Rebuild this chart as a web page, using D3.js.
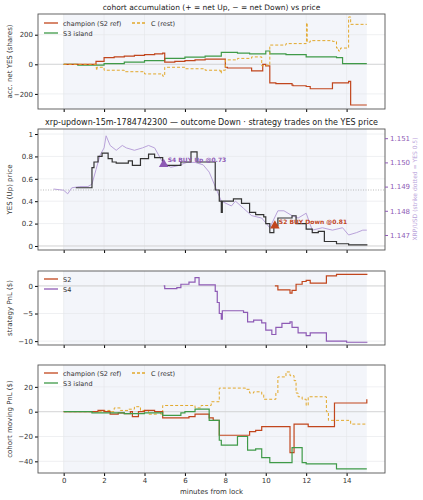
<!DOCTYPE html><html><head><meta charset="utf-8">
<script src="https://cdn.jsdelivr.net/npm/d3@7"></script>
<style>body{margin:0;background:#fff}text{font-family:"DejaVu Sans",sans-serif}</style></head><body>
<svg id="c" width="423" height="500"></svg>
<script>
const xTicks=[0,2,4,6,8,10,12,14];
// panel 1: accumulation [minute, shares]
const accChampion=[[0,0],[1.6,20],[2.0,45],[2.5,50],[3,55],[3.5,60],[4,65],[4.5,70],[4.9,75],[5.0,15],[5.5,20],[6,25],[6.5,30],[7.0,35],[7.7,35],[8.0,-20],[8.1,-25],[9.3,-45],[9.85,0],[10.0,-10],[10.2,-125],[10.5,-130],[11.3,-140],[11.35,-145],[12.0,-150],[12.2,-165],[13.3,-125],[14.1,-115],[14.2,-275],[15,-275]];
const accS3=[[0,0],[0.7,-5],[1.6,-5],[2,5],[3,15],[4,25],[5,40],[6,48],[7,55],[7.8,80],[8.6,75],[9.2,70],[9.9,70],[10.0,90],[10.2,70],[11,65],[12,50],[13.5,45],[13.8,5],[15,5]];
const accC=[[0,0],[1.6,-20],[1.62,-40],[1.65,-20],[2.0,-40],[3,-50],[4,-65],[4.9,-80],[5.0,-20],[5.6,-20],[6,-30],[7,-40],[7.75,-60],[7.8,-40],[8.0,30],[8.6,40],[9.3,50],[9.8,-10],[10.05,-5],[10.2,130],[11,140],[12,150],[12.02,280],[12.05,150],[12.2,160],[13.3,155],[13.5,110],[13.6,90],[13.7,110],[14.1,320],[14.2,270],[15,270]];
// panel 2: YES price and XRP
const yesPrice=[[0.6,0.52],[1.4,0.7],[1.5,0.75],[1.7,0.8],[1.9,0.83],[2.2,0.78],[2.4,0.75],[2.6,0.74],[3.0,0.74],[3.2,0.76],[3.4,0.72],[3.8,0.78],[4.2,0.82],[4.5,0.79],[4.9,0.72],[5.5,0.72],[5.8,0.75],[6.3,0.84],[6.6,0.75],[7.3,0.75],[7.5,0.5],[7.7,0.4],[7.8,0.3],[7.85,0.4],[8.4,0.42],[8.8,0.38],[9.2,0.3],[9.5,0.28],[9.9,0.26],[10.0,0.2],[10.2,0.12],[10.4,0.18],[10.6,0.25],[11.3,0.27],[11.5,0.2],[12.0,0.15],[12.3,0.12],[12.6,0.13],[12.9,0.04],[13.5,0.02],[14.1,0.01],[15,0.005]];
const xrpPrice=[[-0.5,1.1489],[0,1.14885],[0.2,1.1487],[0.4,1.14895],[0.8,1.149],[1.2,1.149],[1.4,1.1491],[1.6,1.1497],[1.8,1.1503],[2.0,1.1506],[2.1,1.1511],[2.3,1.1507],[2.6,1.1505],[2.9,1.1507],[3.1,1.1506],[3.5,1.1505],[3.9,1.1506],[4.2,1.1507],[4.5,1.1506],[4.9,1.15],[5.3,1.1498],[5.6,1.14985],[6.1,1.15],[6.5,1.15],[6.9,1.1499],[7.2,1.1496],[7.5,1.149],[7.8,1.1484],[8.3,1.1482],[8.5,1.1484],[8.9,1.1481],[9.3,1.1478],[9.8,1.1477],[10.2,1.1473],[10.6,1.148],[10.9,1.148],[11.3,1.1478],[11.6,1.1477],[12.0,1.1479],[12.3,1.1472],[12.8,1.1473],[13.3,1.1472],[13.8,1.1473],[14.1,1.147],[14.5,1.1471],[14.8,1.1472],[15,1.1472]];
const trades=[{t:4.95,p:0.73,label:"S4 BUY Up @0.73",s:"S4"},{t:10.45,p:0.18,label:"S2 BUY Down @0.81",s:"S2"}];
// panel 3: strategy PnL
const pnlS2=[[10.45,0],[10.6,-0.7],[11.2,-1.3],[11.3,-0.8],[11.5,0.3],[11.8,0.8],[12.0,1.0],[12.2,0.5],[13.0,1.8],[13.5,2.1],[15,2.2]];
const pnlS4=[[4.95,0],[5.0,-0.5],[5.6,-0.3],[5.8,0.3],[6.2,0.7],[6.5,1.5],[6.7,0.2],[7.5,-1.0],[7.6,-3],[7.7,-5],[7.8,-6],[7.85,-4.5],[8.6,-4.5],[8.9,-4.8],[9.1,-6.5],[9.4,-6.2],[9.8,-6.7],[10.0,-8],[10.3,-8.8],[10.5,-7.5],[10.8,-6.8],[11.2,-6.5],[11.3,-7.5],[11.6,-8.5],[12.0,-9],[12.2,-8.5],[12.9,-8.5],[13.0,-10],[14.0,-10.2],[15,-10.3]];
// panel 4: cohort PnL
const cpChampion=[[0,0],[1.7,1],[2.0,0],[2.3,-2],[2.7,-1],[3.0,-1.5],[3.3,0],[3.4,-4],[3.7,0],[4,1],[4.5,0],[4.9,-5],[6,-5],[6.2,-4],[6.5,-2],[7.0,-2],[7.2,-5],[7.4,-7],[7.7,-19],[9.1,-19],[9.2,-16],[9.5,-15],[9.8,-12],[11.1,-12],[11.2,-33],[11.4,-10],[12,-10],[12.1,-12],[13.3,-12],[13.4,7],[14.95,7],[15,10]];
const cpS3=[[0,0],[1.4,-1],[3,-1.5],[4,-1],[4.9,-3],[5.8,-1],[6.0,0],[6.5,2],[7.0,2],[7.2,-7],[7.6,-7],[7.7,-23],[7.8,-27],[8.6,-20],[9.1,-31],[9.5,-30],[9.8,-37],[10.2,-41],[11.2,-41],[11.3,-29],[11.7,-29],[11.8,-41],[12,-42],[13.4,-42],[13.5,-46],[15,-46]];
const cpC=[[0,0],[2.0,1],[2.3,0],[2.5,3],[2.8,1],[3.2,2],[3.5,4],[3.8,1],[4.2,-2],[4.6,0],[4.8,-2],[4.9,5],[6.0,5],[6.5,3],[6.8,5],[7.2,5],[7.3,8],[7.7,19],[8.6,19],[9.0,18],[9.2,15],[9.4,16],[9.8,14],[9.9,10],[10.2,10],[10.5,15],[10.6,28],[11.0,32],[11.2,29],[11.4,25],[11.5,15],[11.6,12],[11.8,10],[12.0,5],[12.1,12],[12.9,12],[13.0,0],[13.1,-7],[14.0,-7],[14.2,-10],[15,-10]];

const C={champ:"#c1461d",s3:"#3f9a48",c:"#e2a82b",s4:"#8e5bb5",xrp:"#b9a2da",black:"#333"};
const svg=d3.select("#c");
const L=38,R=385;
const x=d3.scaleLinear().domain([-1.27,15.9]).range([L,R]);
function panel(top,bot,dom,ticks,ylab,title,showX){
  const y=d3.scaleLinear().domain(dom).range([bot,top]);
  const g=svg.append("g");
  g.append("rect").attr("x",L).attr("y",top).attr("width",R-L).attr("height",bot-top).attr("fill","#fff");
  g.append("rect").attr("x",x(0)).attr("y",top).attr("width",x(15)-x(0)).attr("height",bot-top).attr("fill","#f3f5fa");
  xTicks.forEach(t=>g.append("line").attr("x1",x(t)).attr("x2",x(t)).attr("y1",top).attr("y2",bot).attr("stroke","#e4e6ea").attr("stroke-width",0.6));
  ticks.forEach(t=>g.append("line").attr("x1",L).attr("x2",R).attr("y1",y(t)).attr("y2",y(t)).attr("stroke","#e4e6ea").attr("stroke-width",0.6));
  g.append("line").attr("x1",L).attr("x2",R).attr("y1",y(0)).attr("y2",y(0)).attr("stroke","#ccc").attr("stroke-width",0.7);
  const ya=g.append("g").attr("transform",`translate(${L},0)`).call(d3.axisLeft(y).tickValues(ticks).tickSize(3).tickPadding(2).tickFormat(d=>d3.format("")(d).replace("-","−")));
  ya.selectAll("text").attr("font-size",7).attr("fill","#333");
  ya.select(".domain").remove();
  const xa=g.append("g").attr("transform",`translate(0,${bot})`).call(d3.axisBottom(x).tickValues(xTicks).tickSize(3).tickPadding(2));
  xa.select(".domain").remove();
  xa.selectAll("text").attr("font-size",7).attr("fill","#333").style("display",showX?null:"none");
  g.append("rect").attr("x",L).attr("y",top).attr("width",R-L).attr("height",bot-top).attr("fill","none").attr("stroke","#555").attr("stroke-width",0.9);
  g.append("text").attr("transform",`translate(12,${(top+bot)/2}) rotate(-90)`).attr("text-anchor","middle").attr("font-size",7).attr("fill","#333").text(ylab);
  if(title) svg.append("text").attr("x",(L+R)/2).attr("y",top-4).attr("text-anchor","middle").attr("font-size",title.s).attr("fill","#222").text(title.t);
  return y;
}
function step(y,data,color,w,dash,curve){
  svg.append("path").datum(data).attr("fill","none").attr("stroke",color).attr("stroke-width",w).attr("stroke-dasharray",dash||null)
   .attr("d",d3.line().x(d=>x(d[0])).y(d=>y(d[1])).curve(curve||d3.curveStepAfter));
}
function legend(items,x0,y0,cols){
  items.forEach((it,i)=>{
    const cx=x0+(i%cols)*88, cy=y0+Math.floor(i/cols)*10;
    svg.append("line").attr("x1",cx).attr("x2",cx+14).attr("y1",cy).attr("y2",cy).attr("stroke",it.c).attr("stroke-width",1.3).attr("stroke-dasharray",it.d||null);
    svg.append("text").attr("x",cx+19).attr("y",cy+2.5).attr("font-size",6.5).attr("fill","#333").text(it.t);
  });
}
// panel 1
const y1=panel(14,109,[-302,340],[-200,0,200],"acc. net YES (shares)",{t:"cohort accumulation (+ = net Up, − = net Down) vs price",s:7.5},false);
step(y1,accS3,C.s3,1.2);
step(y1,accChampion,C.champ,1.2);
step(y1,accC,C.c,1,"3,2");
legend([{t:"champion (S2 ref)",c:C.champ},{t:"C (rest)",c:C.c,d:"3,2"},{t:"S3 island",c:C.s3}],44,23,2);
// panel 2
const y2=panel(129,250,[-0.036,1.045],[0,0.2,0.4,0.6,0.8,1.0],"YES (Up) price",{t:"xrp-updown-15m-1784742300 — outcome Down · strategy trades on the YES price",s:8},false);
svg.selectAll("g").filter(function(){return false;});
const yr=d3.scaleLinear().domain([1.14638,1.15138]).range([250,129]);
svg.append("line").attr("x1",L).attr("x2",R).attr("y1",y2(0.5)).attr("y2",y2(0.5)).attr("stroke","#aaa").attr("stroke-dasharray","1,1.5").attr("stroke-width",0.8);
step(yr,xrpPrice,C.xrp,1,null,d3.curveLinear);
step(y2,yesPrice,C.black,1.2);
const ra=svg.append("g").attr("transform",`translate(${R},0)`).call(d3.axisRight(yr).tickValues([1.147,1.148,1.149,1.15,1.151]).tickSize(3).tickPadding(2).tickFormat(d3.format(".3f")));
ra.select(".domain").remove();ra.selectAll("line").attr("stroke",C.s4);
ra.selectAll("text").attr("font-size",7).attr("fill",C.s4);
svg.append("text").attr("transform",`translate(417,189) rotate(-90)`).attr("text-anchor","middle").attr("font-size",6).attr("fill",C.xrp).text("XRP/USD (strike dotted = YES 0.5)");
trades.forEach(tr=>{
  const col=tr.s=="S4"?C.s4:C.champ;
  svg.append("path").attr("d",d3.symbol(d3.symbolTriangle,40)()).attr("transform",`translate(${x(tr.t)},${y2(tr.p)})`).attr("fill",col);
  svg.append("text").attr("x",x(tr.t)+4).attr("y",y2(tr.p)-2).attr("font-size",6).attr("font-weight","bold").attr("fill",col).text(tr.label);
});
// panel 3
const y3=panel(271,345,[-10.7,2.7],[-10,-5,0],"strategy PnL ($)",null,false);
step(y3,pnlS2,C.champ,1.2);
step(y3,pnlS4,C.s4,1.2);
legend([{t:"S2",c:C.champ},{t:"S4",c:C.s4}],44,279,1);
// panel 4
const y4=panel(365,473,[-49.4,37.6],[-40,-20,0,20],"cohort moving PnL ($)",null,true);
step(y4,cpC,C.c,1,"3,2");
step(y4,cpChampion,C.champ,1.2);
step(y4,cpS3,C.s3,1.2);
legend([{t:"champion (S2 ref)",c:C.champ},{t:"C (rest)",c:C.c,d:"3,2"},{t:"S3 island",c:C.s3}],44,373,2);
svg.append("text").attr("x",(L+R)/2).attr("y",494).attr("text-anchor","middle").attr("font-size",7).attr("fill","#333").text("minutes from lock");
</script></body></html>
